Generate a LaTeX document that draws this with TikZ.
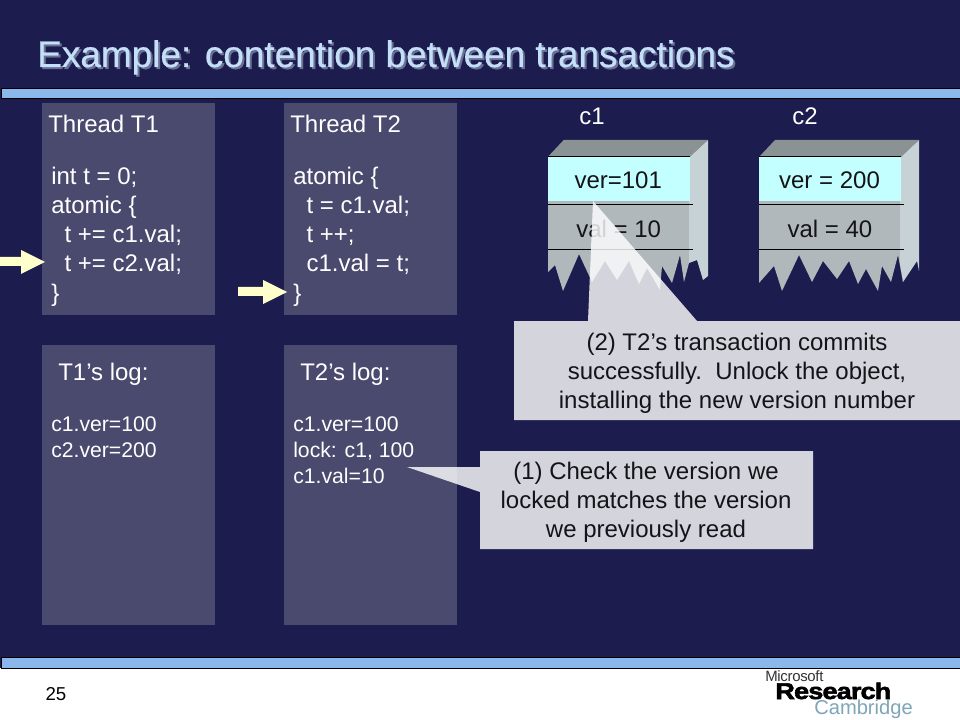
\documentclass[tikz,border=0pt]{standalone}
\usepackage{fontspec}
\setmainfont{Liberation Sans}
\newfontfamily\titlefont[FakeBold=0.5]{Liberation Sans}
\newfontfamily\logoheavy[FakeBold=2.5,FakeStretch=1.2,LetterSpace=-4]{Liberation Sans Bold}
\newfontfamily\logolight[LetterSpace=-2]{Liberation Sans}
\definecolor{navy}{HTML}{1C1C4E}
\definecolor{panel}{HTML}{4A4A6E}
\definecolor{barblue}{HTML}{8AB8EA}
\definecolor{arrowyellow}{HTML}{FFFFCC}
\definecolor{objtop}{HTML}{8A9294}
\definecolor{objside}{HTML}{C6D2D5}
\definecolor{objbody}{HTML}{B0B8BB}
\definecolor{objver}{HTML}{C4FFFF}
\definecolor{titlecol}{HTML}{C4E0F8}
\definecolor{titleshadow}{HTML}{6C7094}
\definecolor{logoblue}{HTML}{7FA6B8}
\definecolor{inktext}{HTML}{141418}
\tikzset{
  x=0.75pt,y=-0.75pt,
  panelbox/.style={fill=panel,draw=none},
  bar/.style={fill=barblue,draw=black,line width=0.75pt},
  lbl/.style={anchor=base west,inner sep=0pt,text=white,font=\fontsize{18}{21}\selectfont},
  smalllbl/.style={anchor=base west,inner sep=0pt,text=white,font=\fontsize{15.9}{18}\selectfont},
  objtxt/.style={anchor=base,inner sep=0pt,text=inktext,font=\fontsize{18}{21}\selectfont},
  calltxt/.style={anchor=center,inner sep=0pt,align=center,text=inktext,font=\fontsize{18}{21.75}\selectfont},
  callout/.style={fill=white,fill opacity=0.81,draw=none},
  yarrow/.style={fill=arrowyellow,draw=none},
  objline/.style={draw=black,line width=0.75pt},
  titletxt/.style={anchor=base west,inner sep=0pt,font=\titlefont\fontsize{27.7}{32}\selectfont},
}
\newcommand{\objbox}[3]{%
  \begin{scope}[shift={(#1,0)}]
    \fill[objtop] (759,157) -- (775,140) -- (919,140) -- (901,157) -- cycle;
    \fill[objver] (759,157) rectangle (901,201);
    \draw[objline] (759,156.5) -- (901,156.5);
    \draw[objline] (759,205) -- (904,205);
    \draw[objline] (759,250) -- (904,250);
    \node[objtxt] at (829.5,189) {#2};
    \node[objtxt] at (830,238) {#3};
  \end{scope}}
\begin{document}
\begin{tikzpicture}
\useasboundingbox (0,0) rectangle (960,720);
\fill[navy] (0,0) rectangle (960,720);
\fill[white] (0,668) rectangle (960,720);
% title
\node[titletxt,text=titleshadow] (titleS) at (39,69) {Example: contention between transactions};
\node[titletxt,text=titlecol] (title) at (37,67) {Example: contention between transactions};
% bars
\draw[bar] (1,88.5) rectangle (961,99);
\draw[bar] (1,657.5) rectangle (961,668);
% panels
\fill[panelbox] (42,103) rectangle (215,315);
\fill[panelbox] (284,103) rectangle (457,315);
\fill[panelbox] (42,345) rectangle (215,625);
\fill[panelbox] (284,345) rectangle (457,625);
% thread 1
\node[lbl] (t1) at (48,133) {Thread T1};
\node[lbl] (a1) at (51,185) {int t = 0;};
\node[lbl] (a2) at (51,214) {atomic \{};
\node[lbl] (a3) at (51,243) {\ \ t += c1.val;};
\node[lbl] (a4) at (51,272) {\ \ t += c2.val;};
\node[lbl] (a5) at (51,301) {\}};
% thread 2
\node[lbl] (t2) at (290,133) {Thread T2};
\node[lbl] (b1) at (293,185) {atomic \{};
\node[lbl] (b2) at (293,214) {\ \ t = c1.val;};
\node[lbl] (b3) at (293,243) {\ \ t ++;};
\node[lbl] (b4) at (293,272) {\ \ c1.val = t;};
\node[lbl] (b5) at (293,301) {\}};
% logs
\node[lbl] (l1) at (58,380) {T1’s log:};
\node[smalllbl] (l1a) at (51,431) {c1.ver=100};
\node[smalllbl] (l1b) at (51,457) {c2.ver=200};
\node[lbl] (l2) at (300,380) {T2’s log:};
\node[smalllbl] (l2a) at (293,431) {c1.ver=100};
\node[smalllbl] (l2b) at (293,457) {lock: c1, 100};
\node[smalllbl] (l2c) at (293,483) {c1.val=10};
% arrows
\fill[yarrow] (0,257) -- (21,257) -- (21,250) -- (45,262) -- (21,274) -- (21,266) -- (0,266) -- cycle;
\fill[yarrow] (238,287) -- (263,287) -- (263,280) -- (287,292) -- (263,304) -- (263,296) -- (238,296) -- cycle;
% objects
\node[lbl,anchor=base] (c1) at (592,125) {c1};
\node[lbl,anchor=base] (c2) at (805,125) {c2};
\fill[objbody] (548,157) -- (689,157) -- (689,263) -- (684,282) -- (680,255) -- (672,283) -- (662,266) -- (660,290) -- (647,268) -- (639,284) -- (629,261) -- (617,280) -- (605,261) -- (592,282) -- (579,254) -- (563,291) -- (555,265) -- (548,272) -- cycle;
\fill[objside] (689,157) -- (708,140) -- (708,276) -- (703,280) -- (697,260) -- (689,263) -- cycle;
\objbox{-211.3}{ver=101}{val = 10}
\fill[objbody] (759,157) -- (900,157) -- (900,265) -- (903,282) -- (898,255) -- (891,282) -- (882,266) -- (878,291) -- (866,269) -- (858,284) -- (849,261) -- (837,279) -- (823,261) -- (812,282) -- (799,255) -- (782,291) -- (774,266) -- (759,283) -- cycle;
\fill[objside] (900,157) -- (919,140) -- (919,271) -- (917,261) -- (903,282) -- (900,265) -- cycle;
\objbox{0}{ver = 200}{val = 40}
% callouts
\path[callout] (514,321) -- (588,321) -- (593,201) -- (697,321) -- (960,321) -- (960,420) -- (514,420) -- cycle;
\node[calltxt] (k2) at (737,373) {(2) T2’s transaction commits\\successfully.\ \ Unlock the object,\\installing the new version number};
\path[callout] (480,451) -- (813,451) -- (813,549) -- (480,549) -- (480,492) -- (407,467) -- (480,467) -- cycle;
\node[calltxt] (k1) at (646,502) {(1) Check the version we\\locked matches the version\\we previously read};
% footer
\node[anchor=base,inner sep=0pt,text=black,font=\fontsize{14}{16}\selectfont] (pg) at (56,700) {25};
\node[anchor=base west,inner sep=0pt,text=black!80,font=\logolight\fontsize{11.2}{13}\selectfont] (lg1) at (765,681) {Microsoft};
\node[anchor=base west,inner sep=0pt,text=black,font=\logoheavy\fontsize{17}{20}\selectfont] (lg2) at (775,699) {Research};
\node[anchor=base west,inner sep=0pt,text=logoblue,font=\fontsize{15.1}{17}\selectfont] (lg3) at (814,714) {Cambridge};
\end{tikzpicture}
\end{document}
